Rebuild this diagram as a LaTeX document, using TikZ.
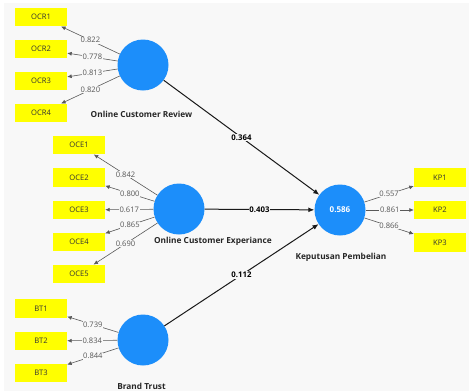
\documentclass[tikz,border=0pt]{standalone}
\usepackage{fontspec}
\setmainfont{Open Sans}
\usetikzlibrary{arrows.meta}
\definecolor{bgc}{RGB}{248,248,248}
\definecolor{lvblue}{RGB}{28,142,250}
\definecolor{boxyellow}{RGB}{255,255,0}
\definecolor{loadgray}{RGB}{85,85,85}
\tikzset{
  indbox/.style={draw=none,fill=boxyellow,minimum width=52pt,minimum height=18.5pt,inner sep=0pt,font=\fontsize{7.6}{8}\selectfont,text=black!80},
  latent/.style={circle,fill=lvblue,minimum size=51pt,inner sep=0pt,font=\bfseries\fontsize{8}{9}\selectfont,text=white},
  lvlabel/.style={font=\bfseries\fontsize{8.3}{9}\selectfont,text=black!85,inner sep=0pt},
  outarrow/.style={draw=black!65,line width=0.6pt,-{Latex[length=4.5pt,width=4pt]}},
  patharrow/.style={draw=black!90,line width=1pt,-{Latex[length=6pt,width=5pt]}},
  loading/.style={fill=bgc,inner sep=0.6pt,font=\fontsize{7.6}{8}\selectfont,text=loadgray},
  coef/.style={fill=bgc,inner sep=0.8pt,font=\bfseries\fontsize{7.8}{8}\selectfont,text=black}
}
\begin{document}
\begin{tikzpicture}[x=1pt,y=-1pt]
\useasboundingbox (0,0) rectangle (471,391);
\fill[white] (0,0) rectangle (471,391);
\fill[bgc] (4,3) rectangle (469,391);
% latent variables
\node[latent] (ocr) at (143,65) {};
\node[latent] (oce) at (179,209) {};
\node[latent] (bt) at (143,340) {};
\node[latent] (kp) at (340,210) {0.586};
% labels
\node[lvlabel] (ocrl) at (141.5,114) {Online Customer Review};
\node[lvlabel] (ocel) at (213,241) {Online Customer Experiance};
\node[lvlabel] (btl) at (141.5,386) {Brand Trust};
\node[lvlabel] (kpl) at (341,257) {Keputusan Pembelian};
% indicators
\node[indbox] (ocr1) at (41,17) {OCR1};
\node[indbox] (ocr2) at (41,49) {OCR2};
\node[indbox] (ocr3) at (41,81) {OCR3};
\node[indbox] (ocr4) at (41,113) {OCR4};
\node[indbox] (oce1) at (79,145) {OCE1};
\node[indbox] (oce2) at (79,177.5) {OCE2};
\node[indbox] (oce3) at (79,210) {OCE3};
\node[indbox] (oce4) at (79,242) {OCE4};
\node[indbox] (oce5) at (79,274) {OCE5};
\node[indbox] (bt1) at (41,308.5) {BT1};
\node[indbox] (bt2) at (41,341) {BT2};
\node[indbox] (bt3) at (41,373) {BT3};
\node[indbox] (kp1) at (440,177.5) {KP1};
\node[indbox] (kp2) at (440,210) {KP2};
\node[indbox] (kp3) at (440,242.5) {KP3};
% outer loadings
\draw[outarrow] (ocr) -- node[loading]{0.822} (ocr1);
\draw[outarrow] (ocr) -- node[loading]{0.778} (ocr2);
\draw[outarrow] (ocr) -- node[loading]{0.813} (ocr3);
\draw[outarrow] (ocr) -- node[loading]{0.820} (ocr4);
\draw[outarrow] (oce) -- node[loading]{0.842} (oce1);
\draw[outarrow] (oce) -- node[loading]{0.800} (oce2);
\draw[outarrow] (oce) -- node[loading]{0.617} (oce3);
\draw[outarrow] (oce) -- node[loading]{0.865} (oce4);
\draw[outarrow] (oce) -- node[loading]{0.690} (oce5);
\draw[outarrow] (bt) -- node[loading]{0.739} (bt1);
\draw[outarrow] (bt) -- node[loading]{0.834} (bt2);
\draw[outarrow] (bt) -- node[loading]{0.844} (bt3);
\draw[outarrow] (kp) -- node[loading]{0.557} (kp1);
\draw[outarrow] (kp) -- node[loading]{0.861} (kp2);
\draw[outarrow] (kp) -- node[loading]{0.866} (kp3);
% structural paths
\draw[patharrow] (ocr) -- node[coef]{0.364} (kp);
\draw[patharrow] (oce) -- node[coef]{0.403} (kp);
\draw[patharrow] (bt) -- node[coef]{0.112} (kp);
\end{tikzpicture}
\end{document}
